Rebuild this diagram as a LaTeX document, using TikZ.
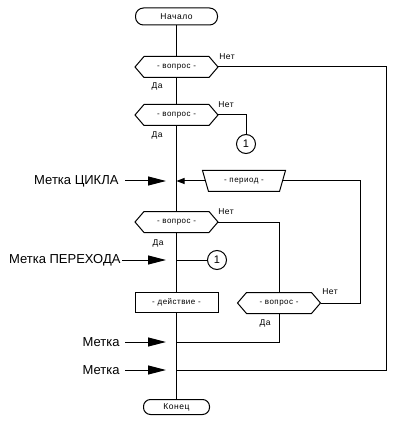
\documentclass[tikz,border=0pt]{standalone}
\usepackage{fontspec}
\setmainfont{Liberation Sans}
\newfontfamily\spacedfont[LetterSpace=6]{Liberation Sans}
\usetikzlibrary{arrows.meta}
\newcommand\hexshape[1]{%
  \coordinate (#1-r) at ([xshift=9pt]#1.east);
  \coordinate (#1-l) at ([xshift=-9pt]#1.west);
  \draw (#1.north west) -- (#1.north east) -- (#1-r) -- (#1.south east)
        -- (#1.south west) -- (#1-l) -- cycle;}
\begin{document}
\begin{tikzpicture}[x=1pt,y=-1pt, line width=1pt,
  term/.style={draw, rounded corners=8pt, minimum width=82pt, minimum height=17pt, inner sep=0pt, font=\spacedfont\fontsize{8.5}{9}\selectfont},
  hexin/.style={minimum width=64pt, minimum height=20pt, inner sep=0pt, font=\spacedfont\fontsize{8}{9}\selectfont},
  actbox/.style={draw, minimum width=83pt, minimum height=20pt, inner sep=0pt, font=\spacedfont\fontsize{8}{9}\selectfont},
  yn/.style={font=\spacedfont\fontsize{8.5}{9}\selectfont, inner sep=0pt},
  marktext/.style={font=\fontsize{13}{14}\selectfont, anchor=east, inner sep=0pt},
  conn/.style={draw, circle, minimum size=19pt, inner sep=0pt, font=\fontsize{11}{12}\selectfont},
  bigarrow/.style={-{Triangle[length=18pt,width=9pt]}},
  smallarrow/.style={-{Triangle[length=8pt,width=6pt]}},
]
\useasboundingbox (0,0) rectangle (400,427);

% main nodes
\node[term] (start) at (176.5,16.5) {Начало};
\node[hexin] (q1) at (176.5,67) {- вопрос -};
\node[hexin] (q2) at (176.5,115) {- вопрос -};
\node[hexin] (q3) at (176.5,222) {- вопрос -};
\node[hexin] (q4) at (279,303) {- вопрос -};
\node[actbox] (act) at (176.5,302.5) {- действие -};
\node[term, minimum width=66pt, minimum height=15pt, rounded corners=7pt] (stop) at (176.5,407) {Конец};
\node[conn] (c1) at (246,144) {1};
\node[conn] (c2) at (217,260) {1};
\node[minimum width=70pt, minimum height=20pt, inner sep=0pt, font=\spacedfont\fontsize{8}{9}\selectfont] (per) at (244,181) {- период -};

\hexshape{q1}
\hexshape{q2}
\hexshape{q3}
\hexshape{q4}
\coordinate (per-r) at ([xshift=3pt]per.east);
\coordinate (per-l) at ([xshift=-3pt]per.west);
\draw (per.south west) -- (per.south east) -- ([xshift=6pt]per.north east)
      -- ([xshift=-6pt]per.north west) -- cycle;

% junctions on the main line
\coordinate (jc) at (176.5,181);
\coordinate (jp) at (176.5,260);
\coordinate (jm1) at (176.5,342);
\coordinate (jm2) at (176.5,370);
\coordinate (rx) at (386,0);
\coordinate (lx) at (360,0);

% main line
\draw (start) -- (q1);
\draw (q1) -- (q2);
\draw (q2) -- (q3);
\draw (q3) -- (act);
\draw (act) -- (stop);

% branches
\draw (q1-r) -- (q1-r -| rx) |- (jm2);
\draw (q2-r) -| (c1);
\draw (q3-r) -| (q4);
\draw (q4-r) -- (q4-r -| lx) |- (per-r);
\draw[smallarrow] (per-l) -- (jc);
\draw (q4) |- (jm1);
\draw (jp) -- (c2);

% yes / no labels
\node[yn] (n1) at (227,57) {Нет};
\node[yn] (d1) at (157,86) {Да};
\node[yn] (n2) at (226,105) {Нет};
\node[yn] (d2) at (157,135) {Да};
\node[yn] (n3) at (226,212) {Нет};
\node[yn] (d3) at (158,243) {Да};
\node[yn] (n4) at (330,292) {Нет};
\node[yn] (d4) at (265,323) {Да};

% marks
\node[marktext] (mc) at (119,181) {Метка ЦИКЛА};
\node[marktext] (mp) at (121,260) {Метка ПЕРЕХОДА};
\node[marktext] (m1) at (120,342) {Метка};
\node[marktext] (m2) at (120,370) {Метка};
\coordinate (ac) at (166,181);
\coordinate (ap) at (166,260);
\coordinate (a1) at (166,342);
\coordinate (a2) at (166,370);
\draw[bigarrow] ([xshift=6pt]mc.east) -- (ac);
\draw[bigarrow] ([xshift=1pt]mp.east) -- (ap);
\draw[bigarrow] ([xshift=5pt]m1.east) -- (a1);
\draw[bigarrow] ([xshift=5pt]m2.east) -- (a2);
\end{tikzpicture}
\end{document}
